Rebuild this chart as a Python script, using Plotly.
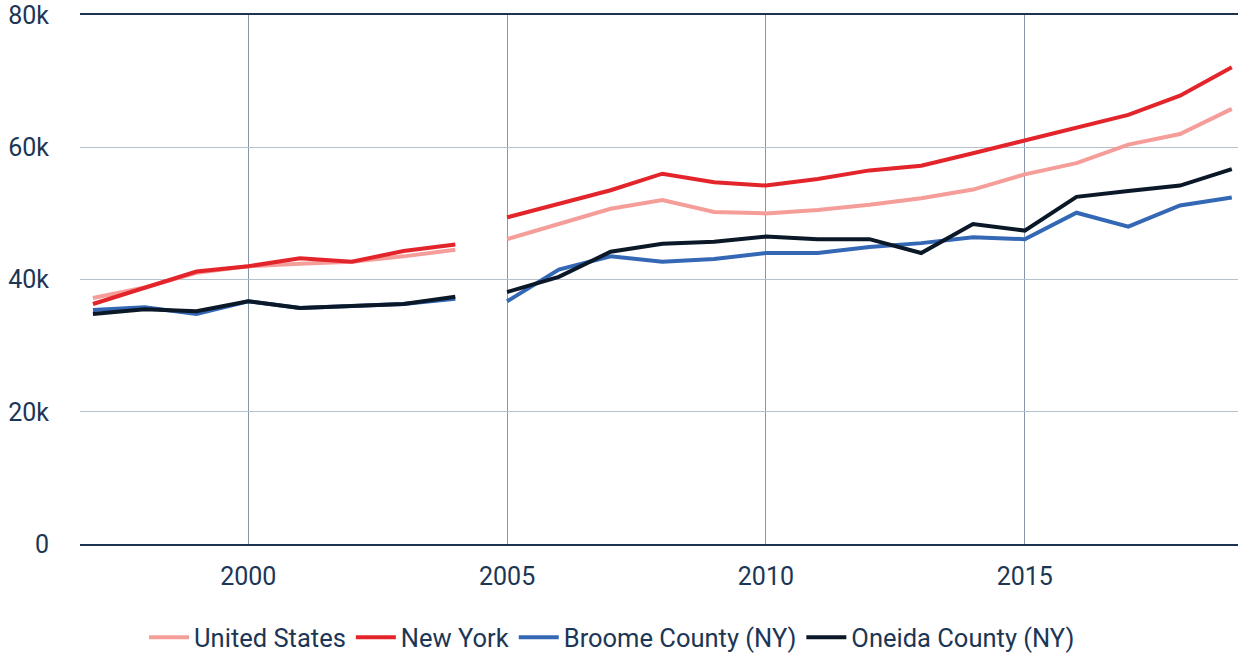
import plotly.graph_objects as go

years_a = [1997, 1998, 1999, 2000, 2001, 2002, 2003, 2004]
years_b = [2005, 2006, 2007, 2008, 2009, 2010, 2011, 2012, 2013, 2014, 2015, 2016, 2017, 2018, 2019]

us_a = [37200, 38800, 41000, 42000, 42400, 42700, 43500, 44500]
us_b = [46100, 48400, 50700, 52000, 50200, 50000, 50500, 51300, 52300, 53600, 55900, 57600, 60400, 62000, 65800]

ny_a = [36300, 38700, 41200, 42000, 43200, 42700, 44300, 45300]
ny_b = [49400, 51400, 53500, 56000, 54700, 54200, 55200, 56500, 57200, 59100, 61000, 62900, 64900, 67800, 72100]

broome_a = [35400, 35800, 34800, 36700, 35700, 36000, 36300, 37100]
broome_b = [36700, 41500, 43500, 42700, 43100, 44000, 44000, 44900, 45500, 46400, 46100, 50100, 48000, 51200, 52400]

oneida_a = [34800, 35500, 35200, 36700, 35700, 36000, 36300, 37400]
oneida_b = [38100, 40400, 44200, 45400, 45700, 46500, 46100, 46100, 44000, 48400, 47400, 52500, 53400, 54200, 56700]

series = [
    ("United States", us_a, us_b, "#f59d99"),
    ("New York", ny_a, ny_b, "#e3242b"),
    ("Broome County (NY)", broome_a, broome_b, "#3468b5"),
    ("Oneida County (NY)", oneida_a, oneida_b, "#0b1828"),
]

fig = go.Figure()
for name, a, b, color in series:
    fig.add_trace(go.Scatter(
        x=years_a + [None] + years_b,
        y=a + [None] + b,
        mode="lines",
        name=name,
        line=dict(color=color, width=4),
        connectgaps=False,
    ))

text_color = "#1c3655"
fig.update_layout(
    width=1239, height=654,
    margin=dict(l=80, r=1, t=15, b=110, autoexpand=False),
    paper_bgcolor="white", plot_bgcolor="white",
    font=dict(family="Roboto, sans-serif", size=25, color=text_color),
    showlegend=True,
    legend=dict(orientation="h", xref="container", x=0.494, xanchor="center",
                yref="container", y=0.025, yanchor="middle",
                font=dict(size=25.5, color=text_color), itemwidth=40, traceorder="normal"),
    xaxis=dict(range=[1996.75, 2019.12], tickvals=[2000, 2005, 2010, 2015],
               showgrid=True, gridcolor="#8796a8", gridwidth=1,
               showline=True, mirror=True, linecolor="#1c3450", linewidth=1.5,
               ticks="", ticklabelstandoff=9, zeroline=False, automargin=False),
    yaxis=dict(range=[0, 80000], tickvals=[0, 20000, 40000, 60000, 80000],
               ticktext=["0", "20k", "40k", "60k", "80k"],
               showgrid=True, gridcolor="#b6c1cc", gridwidth=1,
               showline=False, zeroline=False, ticks="", ticklabelstandoff=30,
               ticklabeloverflow="allow", automargin=False),
)

fig.write_html("out.html", config={"displayModeBar": False},
               post_script="document.body.style.margin='0';document.body.style.overflow='hidden';")
